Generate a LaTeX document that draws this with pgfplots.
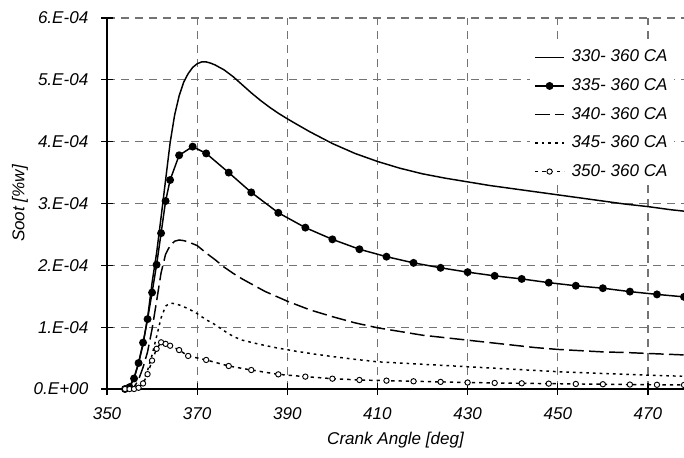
\documentclass[border=0pt]{standalone}
\usepackage{pgfplots}
\pgfplotsset{compat=1.18}
\usepackage{fontspec}
\setmainfont{Liberation Sans}

\newcommand{\chartfont}{\fontsize{12.8}{15}\selectfont\itshape}

\begin{document}
\begin{tikzpicture}
\useasboundingbox (-80.25pt,-51pt) rectangle (432.75pt,291.75pt);
\begin{axis}[
    at={(0pt,0pt)}, anchor=south west,
    scale only axis, width=432.75pt, height=278.25pt,
    xmin=350, xmax=478, ymin=0, ymax=6e-4,
    axis lines=left, axis line style={-, line width=1pt},
    xtick={350,370,390,410,430,450,470},
    xticklabels={350,370,390,410,430,450,470},
    ytick={0,1e-4,2e-4,3e-4,4e-4,5e-4,6e-4},
    yticklabels={0.E+00,1.E-04,2.E-04,3.E-04,4.E-04,5.E-04,6.E-04},
    scaled y ticks=false,
    tick align=center, major tick length=9pt,
    tick style={black, line width=0.9pt},
    grid=major,
    major grid style={black!55, line width=0.85pt, dash pattern=on 6pt off 4.5pt},
    ticklabel style={font=\chartfont},
    yticklabel style={xshift=-6pt},
    xticklabel style={yshift=-6pt},
    xlabel={Crank Angle [deg]}, ylabel={Soot [\%w]},
    label style={font=\chartfont},
    xlabel style={at={(axis description cs:0.5,-0.1375)}, anchor=center},
    ylabel style={at={(axis description cs:-0.151,0.5)}, anchor=center},
    legend style={at={(axis description cs:0.733,0.93)}, anchor=north west,
        draw=none, fill=white, font=\chartfont, row sep=5.6pt,
        nodes={text height=9.3pt, text depth=2.5pt},
        /tikz/every odd column/.append style={column sep=3pt}},
    legend cell align=left,
    legend image code/.code={\draw[mark repeat=2,mark phase=2,#1] plot coordinates {(0pt,0pt) (11pt,0pt) (22pt,0pt)};},
]
% 330-360 CA
\addplot[black, line width=1.1pt] coordinates {
(354,0) (355,0.04e-4) (356,0.18e-4) (357,0.42e-4) (358,0.72e-4) (359,1.15e-4)
(360,1.72e-4) (361,2.2e-4) (362,2.78e-4) (363,3.38e-4) (364,3.98e-4) (365,4.43e-4)
(366,4.74e-4) (367,4.96e-4) (368,5.10e-4) (369,5.2e-4) (370,5.26e-4) (371,5.29e-4)
(372,5.29e-4) (373,5.27e-4) (374,5.24e-4) (376,5.16e-4) (378,5.05e-4) (380,4.92e-4)
(382,4.79e-4) (384,4.67e-4) (386,4.56e-4) (388,4.46e-4) (390,4.37e-4) (392,4.285e-4)
(395,4.16e-4) (400,3.97e-4) (405,3.81e-4) (410,3.68e-4) (415,3.57e-4) (420,3.48e-4)
(425,3.41e-4) (430,3.35e-4) (435,3.29e-4) (440,3.24e-4) (445,3.19e-4) (450,3.14e-4)
(455,3.09e-4) (460,3.04e-4) (465,2.99e-4) (470,2.95e-4) (475,2.90e-4) (480,2.86e-4)
};
\addlegendentry{330- 360 CA}
% 335-360 CA
\addplot[black, line width=1.1pt, mark=*, mark size=2.4pt, mark options={solid}] coordinates {
(354,0) (355,0.03e-4) (356,0.17e-4) (357,0.42e-4) (358,0.75e-4) (359,1.13e-4)
(360,1.56e-4) (361,2.01e-4) (362,2.52e-4) (363,3.04e-4) (364,3.38e-4) (366,3.78e-4)
(369,3.92e-4) (372,3.81e-4) (377,3.50e-4) (382,3.18e-4) (388,2.85e-4) (394,2.61e-4)
(400,2.42e-4) (406,2.26e-4) (412,2.14e-4) (418,2.04e-4) (424,1.96e-4) (430,1.89e-4)
(436,1.83e-4) (442,1.78e-4) (448,1.72e-4) (454,1.67e-4) (460,1.63e-4) (466,1.575e-4)
(472,1.53e-4) (478,1.49e-4)
};
\addlegendentry{335- 360 CA}
% 340-360 CA
\addplot[black, line width=1.1pt, dash pattern=on 11pt off 4pt] coordinates {
(354,0) (355,0) (356,0.03e-4) (357,0.15e-4) (358,0.35e-4) (359,0.6e-4)
(360,0.97e-4) (361,1.42e-4) (362,1.88e-4) (363,2.18e-4) (364,2.32e-4) (365,2.39e-4)
(366,2.41e-4) (367,2.40e-4) (368,2.38e-4) (370,2.32e-4) (372,2.2e-4) (374,2.09e-4)
(376,1.97e-4) (378,1.87e-4) (380,1.78e-4) (382,1.70e-4) (385,1.58e-4) (390,1.42e-4)
(395,1.28e-4) (400,1.17e-4) (405,1.07e-4) (410,0.99e-4) (415,0.93e-4) (420,0.87e-4)
(425,0.83e-4) (430,0.79e-4) (435,0.75e-4) (440,0.71e-4) (445,0.67e-4) (450,0.64e-4)
(455,0.62e-4) (460,0.60e-4) (465,0.59e-4) (470,0.575e-4) (475,0.56e-4) (480,0.545e-4)
};
\addlegendentry{340- 360 CA}
% 345-360 CA
\addplot[black, line width=1.1pt, dash pattern=on 2pt off 3pt] coordinates {
(354,0) (356,0) (357,0.03e-4) (358,0.12e-4) (359,0.3e-4) (360,0.55e-4)
(361,0.85e-4) (362,1.15e-4) (363,1.34e-4) (364,1.39e-4) (365,1.38e-4) (366,1.36e-4)
(368,1.30e-4) (370,1.22e-4) (372,1.12e-4) (374,1.04e-4) (376,0.94e-4) (378,0.85e-4)
(380,0.79e-4) (384,0.72e-4) (388,0.66e-4) (392,0.61e-4) (396,0.565e-4) (400,0.525e-4)
(405,0.48e-4) (410,0.44e-4) (420,0.40e-4) (430,0.36e-4) (440,0.32e-4) (450,0.28e-4)
(460,0.25e-4) (470,0.225e-4) (480,0.2e-4)
};
\addlegendentry{345- 360 CA}
% 350-360 CA
\addplot[black, line width=1.1pt, dash pattern=on 2.5pt off 3pt, mark=*, mark size=2pt,
    mark options={solid, fill=white, draw=black, line width=0.7pt}] coordinates {
(354,0) (355,0) (356,0) (357,0.02e-4) (358,0.09e-4) (359,0.24e-4)
(360,0.46e-4) (361,0.65e-4) (362,0.755e-4) (363,0.73e-4) (364,0.70e-4) (366,0.63e-4)
(368,0.535e-4) (372,0.47e-4) (377,0.372e-4) (382,0.307e-4) (388,0.237e-4) (394,0.2e-4)
(400,0.167e-4) (406,0.146e-4) (412,0.135e-4) (418,0.125e-4) (424,0.115e-4) (430,0.105e-4)
(436,0.098e-4) (442,0.092e-4) (448,0.087e-4) (454,0.082e-4) (460,0.077e-4) (466,0.072e-4)
(472,0.068e-4) (478,0.065e-4)
};
\addlegendentry{350- 360 CA}
\end{axis}
\end{tikzpicture}
\end{document}
